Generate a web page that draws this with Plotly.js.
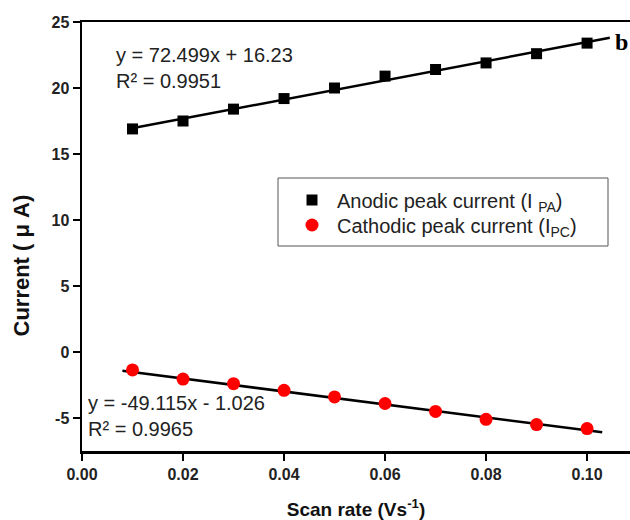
<!DOCTYPE html>
<html><head><meta charset="utf-8">
<script src="https://cdn.plot.ly/plotly-3.0.1.min.js"></script>
<style>html,body{margin:0;padding:0;background:#fff}#chart{width:630px;height:520px}</style>
</head><body><div id="chart"></div>
<script>
const scanRate = [0.01,0.02,0.03,0.04,0.05,0.06,0.07,0.08,0.09,0.10];
const anodic = [16.9,17.5,18.4,19.2,20.0,20.9,21.4,21.9,22.6,23.4];
const cathodic = [-1.36,-2.05,-2.4,-2.9,-3.4,-3.9,-4.5,-5.1,-5.5,-5.8];
const anodicFit = {slope:72.499, intercept:16.23, x:[0.0091,0.1045]};
const cathodicFit = {slope:-49.115, intercept:-1.026, x:[0.008,0.103]};
const anodicLabel = 'y = 72.499x + 16.23<br>R² = 0.9951';
const cathodicLabel = 'y = -49.115x - 1.026<br>R² = 0.9965';
const xTicks = [0,0.02,0.04,0.06,0.08,0.10];
const xTickLabels = ['0.00','0.02','0.04','0.06','0.08','0.10'];
const yTicks = [-5,0,5,10,15,20,25];
const yTickLabels = ['-5','0','5','10','15','20','25'];

const fitY = f => f.x.map(v => f.slope*v + f.intercept);
const bold = a => a.map(s => '<b>' + s + '</b>');

const traces = [
  {x:anodicFit.x, y:fitY(anodicFit), mode:'lines', line:{color:'#000',width:2.5}, showlegend:false, hoverinfo:'skip'},
  {x:cathodicFit.x, y:fitY(cathodicFit), mode:'lines', line:{color:'#000',width:2.5}, showlegend:false, hoverinfo:'skip'},
  {x:scanRate, y:anodic, mode:'markers', name:'Anodic peak current (I <sub>PA</sub>)', legend:'legend',
   marker:{symbol:'square', size:11, color:'#000'}},
  {x:scanRate, y:cathodic, mode:'markers', name:'Cathodic peak current (I<sub>PC</sub>)', legend:'legend2',
   marker:{symbol:'circle', size:13, color:'#ff0000'}}
];

const FONT = 'Liberation Sans, Arial, sans-serif';
const tickFont = {family:FONT, size:16, color:'#222'};
// plot area in pixels: x 82..630, y 22..451
const px = v => (v-82)/548, py = v => (451-v)/429;
const legendBase = {xanchor:'left', yanchor:'middle', borderwidth:0, bgcolor:'rgba(0,0,0,0)',
  font:{size:20, family:FONT, color:'#222'}, itemwidth:40};
const layout = {
  width:630, height:520,
  margin:{l:82, r:0, t:22, b:69},
  paper_bgcolor:'#fff', plot_bgcolor:'#fff',
  font:{family:FONT, color:'#222'},
  xaxis:{range:[0,0.1085], tickvals:xTicks, ticktext:bold(xTickLabels),
    showgrid:false, zeroline:false, showline:true, mirror:true, linewidth:2.5, linecolor:'#000',
    ticks:'outside', ticklen:7, tickwidth:2, tickcolor:'#000', tickfont:tickFont,
    title:{text:'<b>Scan rate (Vs<sup>-1</sup>)</b>', font:{size:19, family:FONT, color:'#111'}, standoff:22}},
  yaxis:{range:[-7.5,25], tickvals:yTicks, ticktext:bold(yTickLabels),
    showgrid:false, zeroline:false, showline:true, linewidth:2.5, linecolor:'#000',
    ticks:'outside', ticklen:7, tickwidth:2, tickcolor:'#000', tickfont:tickFont},
  legend:Object.assign({x:px(287), y:py(200)}, legendBase),
  legend2:Object.assign({x:px(287), y:py(225)}, legendBase),
  shapes:[
    {type:'rect', xref:'paper', yref:'paper', x0:px(278), x1:px(608), y0:py(178), y1:py(246),
     line:{color:'#555', width:1}, fillcolor:'rgba(0,0,0,0)', layer:'below'}
  ],
  annotations:[
    {xref:'paper', yref:'paper', x:px(114), y:py(42), xanchor:'left', yanchor:'top', align:'left', showarrow:false,
     text:anodicLabel, font:{size:20, family:FONT, color:'#222'}},
    {xref:'paper', yref:'paper', x:px(86), y:py(390), xanchor:'left', yanchor:'top', align:'left', showarrow:false,
     text:cathodicLabel, font:{size:20, family:FONT, color:'#222'}},
    {xref:'paper', yref:'paper', x:1, y:py(42), xanchor:'right', yanchor:'middle', showarrow:false,
     text:'<b>b</b>', font:{size:24, family:'Liberation Serif, Times New Roman, serif', color:'#000'}},
    {xref:'paper', yref:'paper', x:-82/548, y:py(266), xanchor:'left', yanchor:'middle', textangle:-90, showarrow:false,
     xshift:6, text:'<b>Current ( μ A)</b>', font:{size:22, family:FONT, color:'#111'}}
  ]
};
Plotly.newPlot('chart', traces, layout, {displayModeBar:false, staticPlot:true});
</script></body></html>
